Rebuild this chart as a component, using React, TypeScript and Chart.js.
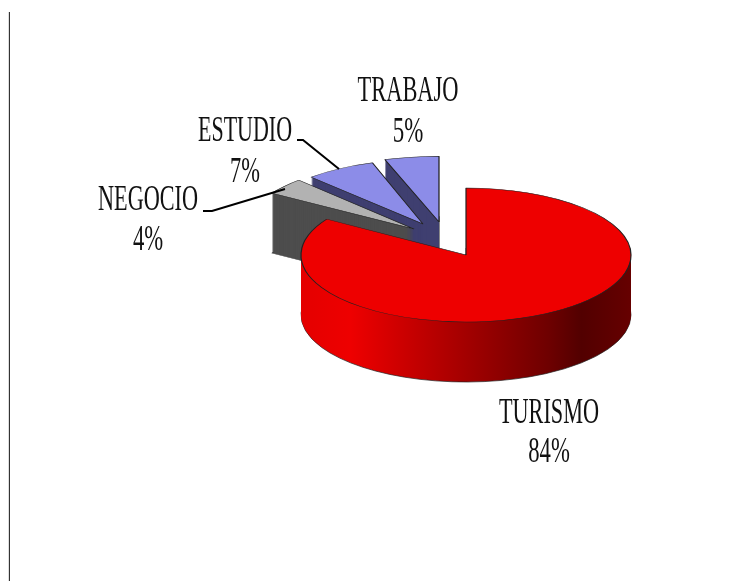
import React, { useEffect, useRef } from "react";
import { Chart, registerables } from "chart.js";

Chart.register(...registerables);

const categories = ["TURISMO", "NEGOCIO", "ESTUDIO", "TRABAJO"];
const shares = [84, 4, 7, 5];
const percentLabels = ["84%", "4%", "7%", "5%"];

const topColors = ["#EE0000", "#B2B2B2", "#8C8CE8", "#8C8CE8"];
const wallColors = ["#EE0000", "#4D4D4D", "#3F3F70", "#3F3F70"];

// Presentation: exploded-slice shift (screen px) and scale of each slice
const shiftX = [0, -52, -43, -27];
const shiftY = [0, -26, -31, -33];
const sliceScaleX = [1, 1.02, 0.99, 1.06];
const sliceScaleY = [1, 1.0, 0.96, 0.98];
const drawOrder = [3, 2, 1, 0];
const squash = 0.406;
const depth = 60;

// Presentation: label anchors
const labelX = [549, 148, 245, 408];
const nameBaseline = [423, 210, 141, 101];
const percentBaseline = [462, 250, 182, 142];
const nameWidth = [100, 100, 94, 101];

const leaderNegocio = [[203, 211], [212, 211], [285, 189]];
const leaderEstudio = [[297, 140], [303, 140], [339, 169]];

const pie3d = {
  id: "pie3d",
  beforeDatasetsDraw(chart: any) {
    const ctx = chart.ctx;
    const arcs = chart.getDatasetMeta(0).data;
    const grad = ctx.createLinearGradient(301, 0, 631, 0);
    grad.addColorStop(0, "#E40000");
    grad.addColorStop(0.15, "#EE0000");
    grad.addColorStop(0.4, "#B80000");
    grad.addColorStop(0.6, "#8E0000");
    grad.addColorStop(0.75, "#6E0000");
    grad.addColorStop(0.85, "#520000");
    grad.addColorStop(1, "#660000");

    for (const i of drawOrder) {
      const arc = arcs[i];
      const orig = arc.options;
      const paint = (yOff: number, fill: any, border: number) => {
        ctx.save();
        ctx.translate(arc.x + shiftX[i], arc.y + shiftY[i] + yOff);
        ctx.scale(sliceScaleX[i], squash * sliceScaleY[i]);
        ctx.translate(-arc.x, -arc.y);
        arc.options = { ...orig, backgroundColor: fill, borderWidth: border, borderColor: "#222" };
        arc.draw(ctx);
        arc.options = orig;
        ctx.restore();
      };
      const wall = i === 0 ? grad : wallColors[i];
      for (let d = depth; d >= 1; d--) paint(d, wall, d === depth ? 1 : 0);
      paint(0, topColors[i], 1.2);
    }
    return false;
  },
  afterDraw(chart: any) {
    const ctx = chart.ctx;
    ctx.save();
    ctx.strokeStyle = "#000";
    ctx.lineWidth = 2;
    for (const line of [leaderNegocio, leaderEstudio]) {
      ctx.beginPath();
      line.forEach(([x, y], n) => (n ? ctx.lineTo(x, y) : ctx.moveTo(x, y)));
      ctx.stroke();
    }
    ctx.fillStyle = "#111";
    ctx.textAlign = "center";
    ctx.textBaseline = "alphabetic";
    categories.forEach((name, i) => {
      ctx.font = "36px 'Liberation Serif'";
      const natural = ctx.measureText(name).width;
      const sx = nameWidth[i] / natural;
      ctx.save();
      ctx.translate(labelX[i], nameBaseline[i]);
      ctx.scale(sx, 1);
      ctx.fillText(name, 0, 0);
      ctx.restore();
      ctx.save();
      ctx.translate(labelX[i], percentBaseline[i]);
      ctx.scale(sx * 1.02, 1);
      ctx.fillText(percentLabels[i], 0, 0);
      ctx.restore();
    });
    ctx.restore();
  },
};

export default function App() {
  const ref = useRef<HTMLCanvasElement>(null);
  useEffect(() => {
    const chart = new Chart(ref.current as any, {
      type: "pie",
      data: {
        labels: categories,
        datasets: [{ data: shares, backgroundColor: topColors, borderWidth: 1 }],
      },
      options: {
        responsive: false,
        animation: false,
        radius: 165,
        layout: { padding: { left: 198, bottom: 71 } },
        plugins: { legend: { display: false }, tooltip: { enabled: false }, title: { display: false } },
      } as any,
      plugins: [pie3d as any],
    });
    return () => chart.destroy();
  }, []);
  return (
    <div style={{ position: "absolute", left: 0, top: 0, width: 734, height: 581, background: "#fff", overflow: "hidden" }}>
      <div style={{ position: "absolute", left: 8, top: 12, width: 1, height: 569, background: "#ddd" }} />
      <div style={{ position: "absolute", left: 9, top: 12, width: 1, height: 569, background: "#333" }} />
      <canvas ref={ref} width={734} height={581} style={{ position: "absolute", left: 0, top: 0, width: 734, height: 581, filter: "blur(0.4px)" }} />
    </div>
  );
}
